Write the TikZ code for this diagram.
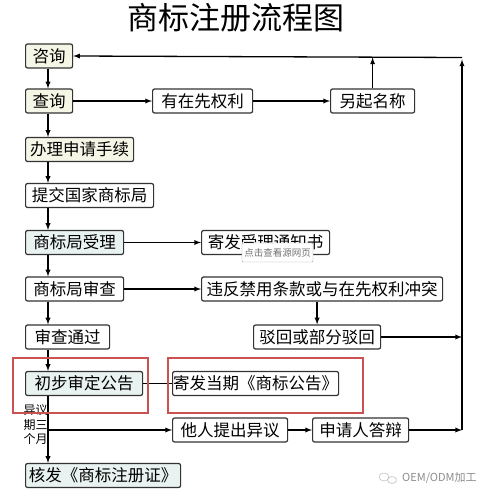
\documentclass[tikz,border=0pt]{standalone}
\usepackage{fontspec}
\setmainfont{Noto Sans CJK SC}
\usepackage{xcolor}
\usepackage{tikz}
\usetikzlibrary{calc, arrows}
\definecolor{cream}{HTML}{F6F6E6}
\definecolor{mint}{HTML}{E8F2F0}
\definecolor{boxline}{HTML}{333333}
\definecolor{markred}{HTML}{CC5252}
\tikzset{>=latex}

\begin{document}
\begin{tikzpicture}[x=1pt, y=-1pt, >=latex,
    box/.style={draw=boxline, line width=1.2pt, rounded corners=2pt, fill=white,
        minimum height=24pt, inner sep=0pt, anchor=west,
        font=\fontsize{16.5}{18}\selectfont},
    flow/.style={->, line width=1.3pt, black}]
    \useasboundingbox (0,0) rectangle (500,500);

    % Coordinates
    \coordinate (spine) at (48,0);
    \coordinate (busTop) at (462,57.5);
    \coordinate (busBot) at (462,430);
    \coordinate (split) at (48,430);

    % Title
    \node[font=\fontsize{31}{34}\selectfont] (title) at (236,18) {商标注册流程图};

    % Left column
    \node[box, fill=cream, minimum width=47pt] (zixun) at (25,56) {咨询};
    \node[box, fill=cream, minimum width=47pt] (chaxun) at (25,101) {查询};
    \node[box, fill=cream, minimum width=108pt] (banli) at (25,149.5) {办理申请手续};
    \node[box, minimum width=128pt] (tijiao) at (25,195.5) {提交国家商标局};
    \node[box, fill=mint, minimum width=98pt] (shouli) at (25,242.5) {商标局受理};
    \node[box, minimum width=98pt] (shencha) at (25,289) {商标局审查};
    \node[box, minimum width=84pt] (tongguo) at (25,337) {审查通过};
    \node[box, fill=mint, minimum width=117pt] (chubu) at (25,383.5) {初步审定公告};
    \node[box, fill=mint, minimum width=155pt] (hefa) at (25,475.5) {核发《商标注册证》};

    % Right side
    \node[box, minimum width=100pt] (xianquan) at (152,101) {有在先权利};
    \node[box, minimum width=84pt] (lingqi) at (330,101) {另起名称};
    \node[box, minimum width=128pt] (tongzhi) at (201,242.5) {寄发受理通知书};
    \node[box, minimum width=241pt] (weifan) at (201,289) {违反禁用条款或与在先权利冲突};
    \node[box, minimum width=127pt] (bohui) at (253,337) {驳回或部分驳回};
    \node[box, minimum width=166pt] (gonggao) at (172,383.5) {寄发当期《商标公告》};
    \node[box, minimum width=115pt] (yiyi) at (172,430) {他人提出异议};
    \node[box, minimum width=96pt] (dabian) at (312,430) {申请人答辩};

    % Text
    \node[align=center, font=\fontsize{12}{14.5}\selectfont, inner sep=0pt] (qixian) at (35.5,425) {异议\\期三\\个月};

    % Lines
    \draw[flow] (zixun.south -| spine) -- (chaxun.north -| spine);
    \draw[flow] (chaxun.south -| spine) -- (banli.north -| spine);
    \draw[flow] (banli.south -| spine) -- (tijiao.north -| spine);
    \draw[flow] (tijiao.south -| spine) -- (shouli.north -| spine);
    \draw[flow] (shouli.south -| spine) -- (shencha.north -| spine);
    \draw[flow] (shencha.south -| spine) -- (tongguo.north -| spine);
    \draw[flow] (tongguo.south -| spine) -- (chubu.north -| spine);
    \draw[flow] (chubu.south -| spine) -- (hefa.north -| spine);
    \draw[flow] (split) -- (yiyi.west);
    \draw[flow] (chaxun.east) -- (xianquan.west);
    \draw[flow] (xianquan.east) -- (lingqi.west);
    \draw[flow] (lingqi.north) -- (lingqi.north |- busTop);
    \draw[flow] (busTop) -- (zixun.east);
    \draw[flow] (busBot) -- ($(busTop)+(0,2)$);
    \draw[flow] (shouli.east) -- (tongzhi.west);
    \draw[flow] (shencha.east) -- (weifan.west);
    \draw[flow] (weifan.south -| bohui.north) -- (bohui.north);
    \draw[flow] (bohui.east) -- (bohui.east -| busBot);
    \draw[line width=1.3pt] (chubu.east) -- (gonggao.west);
    \draw[flow] (yiyi.east) -- (dabian.west);
    \draw[flow] (dabian.east) -- (busBot);

    % Red frames
    \draw[markred, line width=2pt] (13,358) rectangle (148,413);
    \draw[markred, line width=2pt] (168,358) rectangle (363,413);

    % Overlay
    \node[draw=black!35, fill=white, rounded corners=1pt, minimum width=71pt, minimum height=19pt,
        inner sep=0pt, text=black!55, font=\fontsize{9.5}{11}\selectfont] (tip) at (277.5,252.5) {点击查看源网页};
    \draw[black!25, line width=0.6pt] (384,477) ellipse (5 and 4);
    \draw[black!25, line width=0.6pt] (392,480) ellipse (4.5 and 3.5);
    \node[anchor=west, text=black!45, font=\fontsize{11}{13}\selectfont, inner sep=0pt] (mark) at (402,478) {OEM/ODM加工};
\end{tikzpicture}
\end{document}
